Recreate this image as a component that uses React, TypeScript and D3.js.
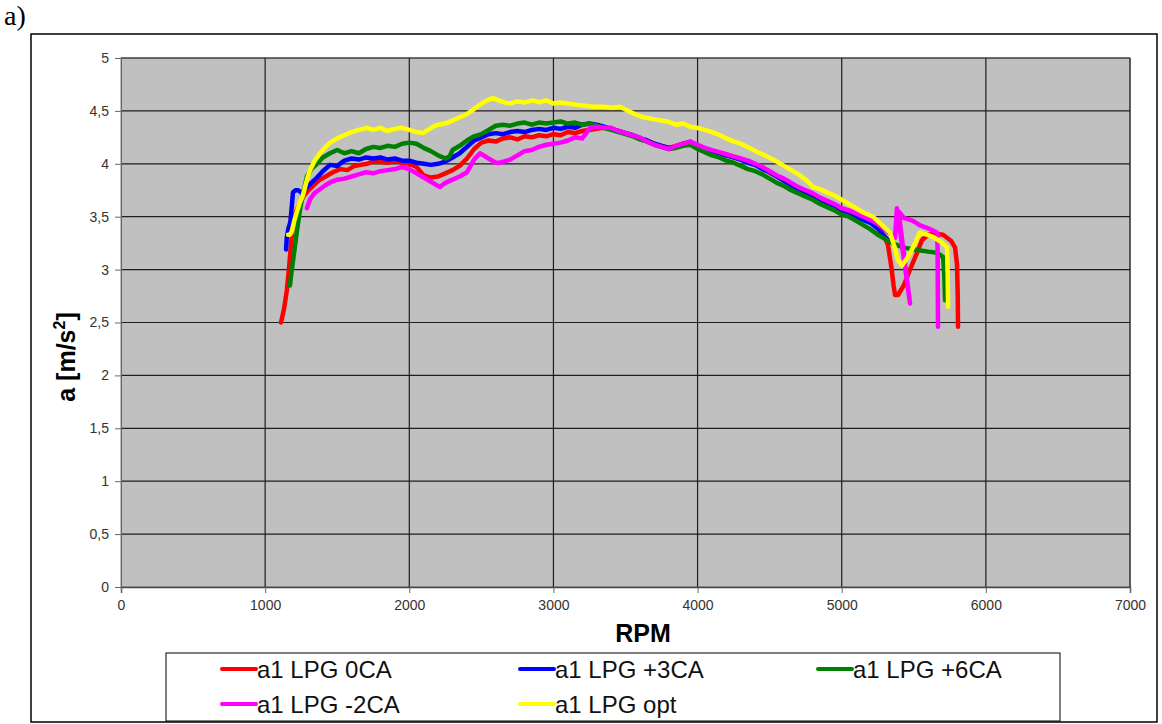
import { useEffect, useRef } from "react"
import * as d3 from "d3"

type Pt = [number, number]

const xTicks = [0, 1000, 2000, 3000, 4000, 5000, 6000, 7000]
const yTicks = [0, 0.5, 1, 1.5, 2, 2.5, 3, 3.5, 4, 4.5, 5]

const seriesNames = ["a1 LPG 0CA", "a1 LPG +3CA", "a1 LPG +6CA", "a1 LPG -2CA", "a1 LPG opt"]
const seriesColors = ["#ff0000", "#0000ff", "#008000", "#ff00ff", "#ffff00"]

// shared descent 3400..5300 rpm (red / blue)
const redData: Pt[] = [
  [1110, 2.5], [1130, 2.62], [1150, 2.8], [1165, 3.0], [1180, 3.25], [1195, 3.45], [1215, 3.55], [1240, 3.62],
  [1265, 3.69], [1300, 3.75], [1340, 3.8], [1380, 3.85], [1420, 3.88], [1470, 3.92], [1520, 3.95], [1570, 3.94],
  [1620, 3.98], [1660, 3.99], [1710, 4.0], [1760, 4.03], [1800, 4.02], [1850, 4.01], [1900, 4.03], [1950, 4.01],
  [2000, 4.0], [2050, 3.97], [2100, 3.89], [2150, 3.87], [2200, 3.88], [2250, 3.91], [2300, 3.94], [2350, 3.98],
  [2400, 4.05], [2450, 4.14], [2500, 4.2], [2550, 4.22], [2600, 4.21], [2650, 4.24], [2700, 4.25], [2750, 4.23],
  [2800, 4.26], [2850, 4.25], [2900, 4.27], [2950, 4.26], [3000, 4.28], [3050, 4.27], [3100, 4.3], [3150, 4.29],
  [3200, 4.31], [3250, 4.32], [3300, 4.33], [3350, 4.34], [3400, 4.33], [3450, 4.31], [3500, 4.29], [3550, 4.27],
  [3600, 4.24], [3650, 4.22], [3700, 4.19], [3750, 4.17], [3800, 4.15], [3850, 4.17], [3900, 4.19], [3950, 4.21],
  [4000, 4.17], [4050, 4.14], [4100, 4.12], [4150, 4.1], [4200, 4.08], [4250, 4.06], [4300, 4.04], [4350, 4.02],
  [4400, 3.99], [4450, 3.96], [4500, 3.92], [4550, 3.88], [4600, 3.84], [4650, 3.8], [4700, 3.76], [4750, 3.73],
  [4800, 3.7], [4850, 3.66], [4900, 3.63], [4950, 3.6], [5000, 3.56], [5050, 3.54], [5100, 3.51], [5150, 3.48],
  [5200, 3.45], [5250, 3.4], [5300, 3.3], [5321, 3.23], [5345, 3.02], [5360, 2.85], [5370, 2.76], [5391, 2.76],
  [5430, 2.85], [5474, 3.0], [5520, 3.15], [5557, 3.28], [5600, 3.33], [5650, 3.34], [5703, 3.33], [5760, 3.27],
  [5786, 3.21], [5800, 3.05], [5805, 2.75], [5807, 2.46],
]

const blueData: Pt[] = [
  [1145, 3.19], [1150, 3.3], [1160, 3.38], [1175, 3.45], [1185, 3.6], [1193, 3.73], [1210, 3.75], [1230, 3.75],
  [1250, 3.73], [1265, 3.74], [1290, 3.78], [1320, 3.82], [1360, 3.87], [1400, 3.93], [1450, 3.99], [1500, 3.98],
  [1550, 4.03], [1600, 4.05], [1650, 4.04], [1700, 4.06], [1750, 4.05], [1800, 4.06], [1850, 4.04], [1900, 4.05],
  [1950, 4.03], [2000, 4.03], [2050, 4.01], [2100, 4.0], [2150, 3.99], [2200, 4.0], [2250, 4.02], [2300, 4.06],
  [2350, 4.1], [2400, 4.16], [2450, 4.22], [2500, 4.25], [2550, 4.28], [2600, 4.29], [2650, 4.28], [2700, 4.3],
  [2750, 4.31], [2800, 4.3], [2850, 4.32], [2900, 4.33], [2950, 4.32], [3000, 4.34], [3050, 4.33], [3100, 4.35],
  [3150, 4.34], [3200, 4.37], [3250, 4.38], [3300, 4.37], [3350, 4.35], [3400, 4.33], [3450, 4.31], [3500, 4.29],
  [3550, 4.27], [3600, 4.24], [3650, 4.22], [3700, 4.19], [3750, 4.17], [3800, 4.15], [3850, 4.16], [3900, 4.19],
  [3950, 4.2], [4000, 4.17], [4050, 4.14], [4100, 4.12], [4150, 4.1], [4200, 4.08], [4250, 4.06], [4300, 4.04],
  [4350, 4.01], [4400, 3.99], [4450, 3.95], [4500, 3.92], [4550, 3.88], [4600, 3.84], [4650, 3.8], [4700, 3.76],
  [4750, 3.72], [4800, 3.69], [4850, 3.66], [4900, 3.62], [4950, 3.59], [5000, 3.56], [5050, 3.53], [5100, 3.5],
  [5150, 3.47], [5200, 3.44], [5250, 3.39], [5300, 3.31], [5330, 3.27],
]

const greenData: Pt[] = [
  [1172, 2.85], [1185, 3.0], [1200, 3.15], [1221, 3.37], [1240, 3.55], [1260, 3.7], [1290, 3.88], [1320, 3.95],
  [1360, 4.0], [1400, 4.06], [1450, 4.1], [1500, 4.13], [1550, 4.1], [1600, 4.12], [1650, 4.1], [1700, 4.14],
  [1750, 4.16], [1800, 4.15], [1850, 4.17], [1900, 4.16], [1950, 4.19], [2000, 4.2], [2050, 4.19], [2100, 4.15],
  [2150, 4.12], [2200, 4.08], [2250, 4.05], [2280, 4.07], [2300, 4.13], [2350, 4.17], [2400, 4.22], [2450, 4.26],
  [2500, 4.28], [2550, 4.32], [2600, 4.36], [2650, 4.37], [2700, 4.36], [2750, 4.38], [2800, 4.39], [2850, 4.37],
  [2900, 4.39], [2950, 4.38], [3000, 4.39], [3050, 4.4], [3100, 4.38], [3150, 4.39], [3200, 4.37], [3250, 4.38],
  [3300, 4.36], [3350, 4.34], [3400, 4.32], [3450, 4.3], [3500, 4.28], [3550, 4.26], [3600, 4.23], [3650, 4.21],
  [3700, 4.18], [3750, 4.16], [3800, 4.14], [3850, 4.15], [3900, 4.17], [3950, 4.18], [4000, 4.14], [4050, 4.11],
  [4100, 4.08], [4150, 4.06], [4200, 4.03], [4250, 4.01], [4300, 3.98], [4350, 3.95], [4400, 3.93], [4450, 3.9],
  [4500, 3.86], [4550, 3.82], [4600, 3.79], [4650, 3.75], [4700, 3.72], [4750, 3.69], [4800, 3.66], [4850, 3.62],
  [4900, 3.59], [4950, 3.56], [5000, 3.52], [5050, 3.5], [5100, 3.46], [5150, 3.42], [5200, 3.38], [5250, 3.33],
  [5300, 3.29], [5350, 3.25], [5425, 3.21], [5500, 3.19], [5600, 3.17], [5661, 3.16], [5703, 3.12], [5712, 2.95],
  [5717, 2.71],
]

const magentaData: Pt[] = [
  [1290, 3.58], [1310, 3.66], [1340, 3.72], [1380, 3.76], [1420, 3.8], [1460, 3.83], [1500, 3.85], [1550, 3.86],
  [1600, 3.88], [1650, 3.9], [1700, 3.92], [1750, 3.91], [1800, 3.93], [1850, 3.94], [1900, 3.95], [1950, 3.97],
  [2000, 3.95], [2050, 3.91], [2100, 3.87], [2150, 3.83], [2213, 3.78], [2250, 3.82], [2300, 3.85], [2350, 3.88],
  [2400, 3.92], [2450, 4.04], [2491, 4.1], [2550, 4.05], [2600, 4.01], [2629, 4.01], [2700, 4.04], [2750, 4.08],
  [2800, 4.12], [2850, 4.13], [2900, 4.16], [2950, 4.18], [3000, 4.19], [3050, 4.2], [3100, 4.22], [3150, 4.25],
  [3200, 4.24], [3254, 4.34], [3300, 4.35], [3350, 4.34], [3400, 4.34], [3450, 4.31], [3500, 4.29], [3550, 4.27],
  [3600, 4.25], [3650, 4.21], [3700, 4.18], [3750, 4.16], [3800, 4.14], [3850, 4.17], [3900, 4.19], [3950, 4.21],
  [4000, 4.18], [4050, 4.15], [4100, 4.13], [4150, 4.11], [4200, 4.09], [4250, 4.07], [4300, 4.05], [4350, 4.03],
  [4400, 4.0], [4450, 3.97], [4500, 3.93], [4550, 3.89], [4600, 3.86], [4650, 3.82], [4700, 3.78], [4750, 3.75],
  [4800, 3.72], [4850, 3.68], [4900, 3.65], [4950, 3.62], [5000, 3.58], [5050, 3.56], [5100, 3.53], [5150, 3.5],
  [5200, 3.47], [5250, 3.43], [5300, 3.38], [5340, 3.33], [5370, 3.3], [5383, 3.58], [5474, 2.68], [5395, 3.55],
  [5430, 3.49], [5495, 3.46], [5540, 3.42], [5600, 3.39], [5661, 3.35], [5665, 3.2], [5668, 2.46],
]

const yellowData: Pt[] = [
  [1159, 3.33], [1172, 3.33], [1185, 3.36], [1200, 3.45], [1221, 3.55], [1240, 3.63], [1262, 3.7], [1290, 3.85],
  [1311, 3.94], [1340, 4.02], [1380, 4.1], [1420, 4.16], [1450, 4.2], [1500, 4.24], [1550, 4.27], [1600, 4.3],
  [1650, 4.32], [1707, 4.34], [1750, 4.32], [1800, 4.34], [1845, 4.31], [1900, 4.33], [1950, 4.34], [2000, 4.32],
  [2050, 4.3], [2095, 4.29], [2130, 4.32], [2165, 4.35], [2200, 4.37], [2250, 4.38], [2303, 4.41], [2350, 4.44],
  [2400, 4.47], [2442, 4.51], [2491, 4.56], [2540, 4.6], [2581, 4.62], [2620, 4.6], [2660, 4.58], [2700, 4.57],
  [2750, 4.59], [2800, 4.58], [2858, 4.6], [2900, 4.58], [2950, 4.6], [3000, 4.57], [3050, 4.58], [3100, 4.57],
  [3150, 4.56], [3200, 4.55], [3275, 4.54], [3350, 4.54], [3400, 4.53], [3462, 4.54], [3520, 4.5], [3580, 4.46],
  [3622, 4.44], [3700, 4.42], [3788, 4.4], [3850, 4.37], [3900, 4.38], [3950, 4.35], [3996, 4.34], [4050, 4.32],
  [4100, 4.3], [4156, 4.27], [4200, 4.24], [4250, 4.21], [4300, 4.19], [4343, 4.16], [4400, 4.12], [4450, 4.09],
  [4523, 4.04], [4600, 3.98], [4650, 3.94], [4711, 3.89], [4760, 3.84], [4801, 3.78], [4850, 3.76], [4898, 3.73],
  [4950, 3.7], [5000, 3.66], [5037, 3.63], [5100, 3.58], [5150, 3.54], [5217, 3.5], [5280, 3.42], [5335, 3.35],
  [5370, 3.2], [5390, 3.09], [5418, 3.04], [5460, 3.12], [5495, 3.21], [5543, 3.35], [5590, 3.33], [5633, 3.31],
  [5690, 3.26], [5731, 3.21], [5735, 2.95], [5738, 2.65],
]

const allSeries = [redData, blueData, greenData, magentaData, yellowData]

export default function App() {
  const ref = useRef<SVGSVGElement>(null)

  useEffect(() => {
    const svg = d3.select(ref.current)
    svg.selectAll("*").remove()

    const left = 121, right = 1130, top = 58, bottom = 587
    const x = d3.scaleLinear().domain([0, 7000]).range([left, right])
    const y = d3.scaleLinear().domain([0, 5]).range([bottom, top])

    // caption + outer frame
    svg.append("text")
      .attr("x", 4).attr("y", 25)
      .attr("font-family", "Liberation Serif, Times New Roman, serif")
      .attr("font-size", 28)
      .text("a)")

    svg.append("rect")
      .attr("x", 31).attr("y", 34)
      .attr("width", 1126).attr("height", 688)
      .attr("fill", "#fff")
      .attr("stroke", "#000")
      .attr("stroke-width", 1.5)

    // plot area
    svg.append("rect")
      .attr("x", left).attr("y", top)
      .attr("width", right - left).attr("height", bottom - top)
      .attr("fill", "#c0c0c0")
      .attr("stroke", "#808080")

    const grid = svg.append("g").attr("stroke", "#1e1e1e").attr("stroke-width", 1.2)
    grid.selectAll(".vg")
      .data(xTicks.slice(1))
      .join("line")
      .attr("x1", (d) => x(d)).attr("x2", (d) => x(d))
      .attr("y1", top).attr("y2", bottom)
    grid.selectAll(".hg")
      .data(yTicks.slice(1))
      .join("line")
      .attr("x1", left).attr("x2", right)
      .attr("y1", (d) => y(d)).attr("y2", (d) => y(d))

    const fmt = (d: number) => String(d).replace(".", ",")

    const yAxis = d3.axisLeft(y).tickValues(yTicks).tickSize(6).tickPadding(6).tickFormat((d) => fmt(+d))
    svg.append("g")
      .attr("transform", `translate(${left},0)`)
      .call(yAxis)
      .call((g) => g.select(".domain").attr("stroke", "#666"))
      .call((g) => g.selectAll(".tick line").attr("stroke", "#666"))
      .selectAll("text")
      .attr("font-family", "Liberation Sans, Arial, sans-serif")
      .attr("font-size", 14)
      .attr("fill", "#333")

    const xAxis = d3.axisBottom(x).tickValues(xTicks).tickSize(6).tickPadding(7).tickFormat((d) => String(d))
    svg.append("g")
      .attr("transform", `translate(0,${bottom})`)
      .call(xAxis)
      .call((g) => g.select(".domain").attr("stroke", "#444").attr("stroke-width", 1.5))
      .call((g) => g.selectAll(".tick line").attr("stroke", "#666"))
      .selectAll("text")
      .attr("font-family", "Liberation Sans, Arial, sans-serif")
      .attr("font-size", 14)
      .attr("fill", "#333")

    // axis titles
    svg.append("text")
      .attr("x", 643).attr("y", 642)
      .attr("text-anchor", "middle")
      .attr("font-family", "Liberation Sans, Arial, sans-serif")
      .attr("font-weight", "bold")
      .attr("font-size", 25)
      .text("RPM")

    const yt = svg.append("text")
      .attr("transform", "translate(75,357) rotate(-90)")
      .attr("text-anchor", "middle")
      .attr("font-family", "Liberation Sans, Arial, sans-serif")
      .attr("font-weight", "bold")
      .attr("font-size", 25)
    yt.append("tspan").text("a [m/s")
    yt.append("tspan").attr("font-size", 16).attr("dy", -10).text("2")
    yt.append("tspan").attr("dy", 10).text("]")

    // series
    const line = d3.line<Pt>().x((d) => x(d[0])).y((d) => y(d[1])).curve(d3.curveLinear)
    svg.append("g")
      .selectAll("path")
      .data(allSeries)
      .join("path")
      .attr("fill", "none")
      .attr("stroke", (_, i) => seriesColors[i])
      .attr("stroke-width", 4.5)
      .attr("stroke-linejoin", "round")
      .attr("stroke-linecap", "round")
      .attr("d", (d) => line(d))

    // legend
    svg.append("rect")
      .attr("x", 166).attr("y", 653)
      .attr("width", 894).attr("height", 68)
      .attr("fill", "#fff")
      .attr("stroke", "#000")
      .attr("stroke-width", 1)

    const legendPos = [
      [222, 669], [520, 669], [818, 669],
      [222, 704], [520, 704],
    ]
    const items = svg.append("g")
      .selectAll("g")
      .data(seriesNames)
      .join("g")
      .attr("transform", (_, i) => `translate(${legendPos[i][0]},${legendPos[i][1]})`)
    items.append("line")
      .attr("x1", 0).attr("x2", 34)
      .attr("stroke", (_, i) => seriesColors[i])
      .attr("stroke-width", 4)
      .attr("stroke-linecap", "round")
    items.append("text")
      .attr("x", 35).attr("y", 9)
      .attr("font-family", "Liberation Sans, Arial, sans-serif")
      .attr("font-size", 24)
      .attr("fill", "#111")
      .text((d) => d)
  }, [])

  return (
    <svg
      ref={ref}
      width={1162}
      height={724}
      style={{ position: "absolute", left: 0, top: 0, background: "#fff" }}
    />
  )
}
